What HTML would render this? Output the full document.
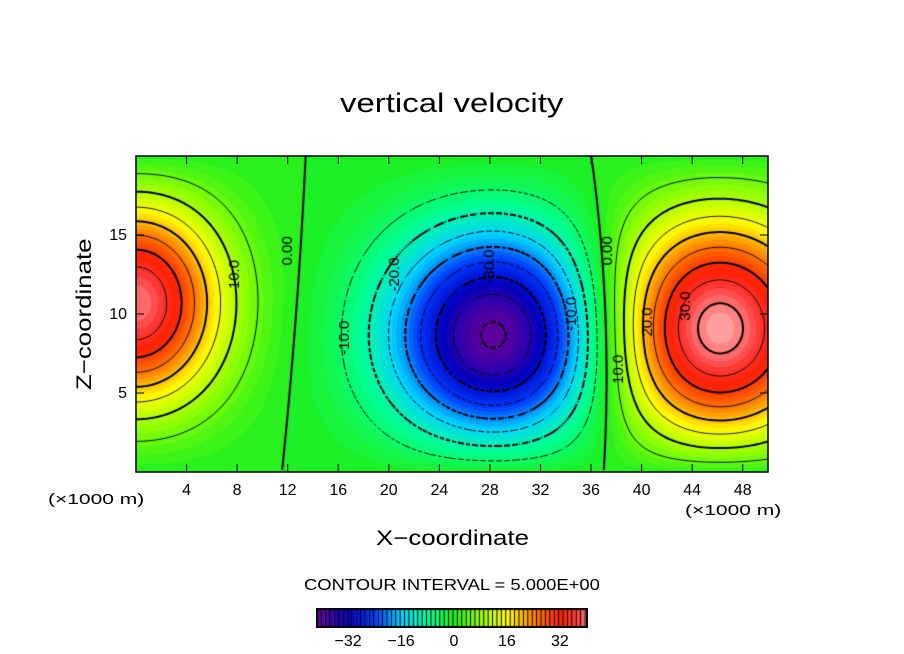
<!DOCTYPE html>
<html><head><meta charset="utf-8"><style>
body{margin:0;background:#fff;width:904px;height:654px;overflow:hidden;position:relative;font-family:"Liberation Sans",sans-serif;}
.t{position:absolute;white-space:nowrap;color:#000;transform-origin:left top;}
</style></head><body>
<div class="t" style="left:340px;top:88px;font-size:27px;transform:scaleX(1.22);">vertical velocity</div>
<canvas id="plot" width="632" height="316" style="position:absolute;left:136px;top:156px;"></canvas>
<svg id="ax" width="904" height="654" style="position:absolute;left:0;top:0;"></svg>
<div class="t" style="left:48px;top:491px;font-size:15px;transform:scaleX(1.4);">(×1000 m)</div>
<div class="t" style="left:685px;top:502px;font-size:15px;transform:scaleX(1.4);">(×1000 m)</div>
<div class="t" style="left:376px;top:527px;font-size:21px;transform:scaleX(1.23);">X−coordinate</div>
<div class="t" style="left:73px;top:390px;font-size:21px;transform:rotate(-90deg) scaleX(1.23);">Z−coordinate</div>
<div class="t" style="left:304px;top:577px;font-size:16px;transform:scaleX(1.15);">CONTOUR INTERVAL = 5.000E+00</div>
<canvas id="cbar" width="272" height="20" style="position:absolute;left:316px;top:608px;"></canvas>
<script>
// field model data (blob centers, amplitudes, spreads in data units)
const blobX=[0,28.5,46];
const blobZ=[11,8,8.5];
const blobAmp=[40,-42,43];
const blobSx=[4.8,6,6];
const blobSz=[5.5,5.8,6.5];
const xTicks=[4,8,12,16,20,24,28,32,36,40,44,48];
const yTicks=[5,10,15];
const cbTicks=[-32,-16,0,16,32];
const levels=[-40,-35,-30,-25,-20,-15,-10,-5,0,5,10,15,20,25,30,35,40];
const X0=136,X1=768,Y0=472,Y1=156,xmin=0,xmax=50,zmin=0,zmax=20;
const sx=x=>X0+(x-xmin)/(xmax-xmin)*(X1-X0);
const sy=z=>Y0-(z-zmin)/(zmax-zmin)*(Y0-Y1);
function field(x,z){let v=0;for(let i=0;i<blobX.length;i++){const dx=(x-blobX[i])/blobSx[i],dz=(z-blobZ[i])/blobSz[i];v+=blobAmp[i]*Math.exp(-(dx*dx+dz*dz)/2);}
 return v*Math.pow(Math.sin(Math.PI*Math.min(Math.max(z,0),20)/20),0.6);}
const stops=[[-42,[110,0,150]],[-32,[0,0,190]],[-24,[0,60,255]],[-16,[0,210,255]],[-8,[0,255,150]],[0,[30,240,30]],[8,[150,255,0]],[16,[255,255,0]],[24,[255,130,0]],[32,[255,30,0]],[37,[255,60,60]],[42,[255,160,160]]];
function col(v){if(v<=stops[0][0])return stops[0][1];for(let i=1;i<stops.length;i++){if(v<=stops[i][0]){const a=stops[i-1],b=stops[i],t=(v-a[0])/(b[0]-a[0]);return a[1].map((c,k)=>Math.round(c+(b[1][k]-c)*t));}}return stops[stops.length-1][1];}
const band=1.33;
const c=document.getElementById('plot'),g=c.getContext('2d'),W=632,H=316;
const img=g.createImageData(W,H);
for(let j=0;j<H;j++)for(let i=0;i<W;i++){const x=xmin+(i+0.5)/W*(xmax-xmin),z=zmax-(j+0.5)/H*(zmax-zmin);
 let v=field(x,z);v=(Math.floor(v/band)+0.5)*band;const k=col(v),p=(j*W+i)*4;img.data[p]=k[0];img.data[p+1]=k[1];img.data[p+2]=k[2];img.data[p+3]=255;}
g.putImageData(img,0,0);
// contours (marching squares)
const st=2,nx=Math.ceil(W/st)+1,ny=Math.ceil(H/st)+1,gr=[];
for(let j=0;j<ny;j++){gr.push([]);for(let i=0;i<nx;i++)gr[j].push(field(xmin+i*st/W*(xmax-xmin),zmax-j*st/H*(zmax-zmin)));}
levels.forEach(L=>{g.beginPath();g.strokeStyle='#000';g.lineWidth=(L%10===0)?2:0.9;
 for(let j=0;j<ny-1;j++)for(let i=0;i<nx-1;i++){const a=gr[j][i],b=gr[j][i+1],cc=gr[j+1][i+1],d=gr[j+1][i];const pts=[];
  const e=(p,q,x1,y1,x2,y2)=>{if((p-L)*(q-L)<0){const t=(L-p)/(q-p);pts.push([x1+(x2-x1)*t,y1+(y2-y1)*t]);}};
  const x=i*st,y=j*st;e(a,b,x,y,x+st,y);e(b,cc,x+st,y,x+st,y+st);e(d,cc,x,y+st,x+st,y+st);e(a,d,x,y,x,y+st);
  if(L<0){const q=Math.floor((x+y)/st)%4;if(q===3)continue;}
  for(let k=0;k+1<pts.length;k+=2){g.moveTo(pts[k][0],pts[k][1]);g.lineTo(pts[k+1][0],pts[k+1][1]);}}
 g.stroke();});
// labels on contours
const labs=[[7.8,12.5,'10.0'],[12,14,'0.00'],[20.5,12.5,'-20.0'],[28,13,'-30.0'],[16.5,8.5,'-10.0'],[34.5,10,'-10.0'],[37.3,14,'0.00'],[38.2,6.5,'10.0'],[40.5,9.5,'20.0'],[43.5,10.5,'30.0']];
g.font='15px "Liberation Sans",sans-serif';
labs.forEach(l=>{g.save();g.translate(sx(l[0])-136,sy(l[1])-156);g.rotate(-Math.PI/2);g.fillStyle='#000';g.textAlign='center';g.textBaseline='middle';g.fillText(l[2],0,0);g.restore();});
// axes
const NS='http://www.w3.org/2000/svg',svg=document.getElementById('ax');
function mk(t,a,txt){const e=document.createElementNS(NS,t);for(const k in a)e.setAttribute(k,a[k]);if(txt!==undefined)e.textContent=txt;svg.appendChild(e);return e;}
const fr=mk('rect',{x:X0,y:Y1,width:X1-X0,height:Y0-Y1,fill:'none',stroke:'#000','stroke-width':1.5});


xTicks.forEach(v=>{const x=sx(v);mk('line',{x1:x,x2:x,y1:Y0,y2:Y0-8,stroke:'#000'});mk('line',{x1:x,x2:x,y1:Y1,y2:Y1+8,stroke:'#000'});
 const t=mk('text',{x:x,y:495,'text-anchor':'middle','font-size':16,'font-family':'Liberation Sans'},v);
 
 });
yTicks.forEach(v=>{const y=sy(v);mk('line',{x1:X0,x2:X0+8,y1:y,y2:y,stroke:'#000'});mk('line',{x1:X1,x2:X1-8,y1:y,y2:y,stroke:'#000'});
 const t=mk('text',{x:127,y:y+5,'text-anchor':'end','font-size':16,'font-family':'Liberation Sans'},v);
 
 });
// colorbar
const cb=document.getElementById('cbar').getContext('2d'),cmin=-41.7,cmax=40.5;
const cx=v=>316+(v-cmin)/(cmax-cmin)*272;
for(let v=cmin;v<cmax;v+=band){const x0=(v-cmin)/(cmax-cmin)*272,w=band/(cmax-cmin)*272;const k=col(v+band/2);cb.fillStyle='rgb('+k+')';cb.fillRect(x0,0,w,20);cb.fillStyle='#000';cb.fillRect(x0,0,1,20);}
cb.strokeStyle='#000';cb.lineWidth=2;cb.strokeRect(1,1,270,18);
cbTicks.forEach(v=>{const t=mk('text',{x:cx(v),y:646,'text-anchor':'middle','font-size':16,'font-family':'Liberation Sans'},v<0?'−'+(-v):v);
 
 });
</script>
</body></html>
